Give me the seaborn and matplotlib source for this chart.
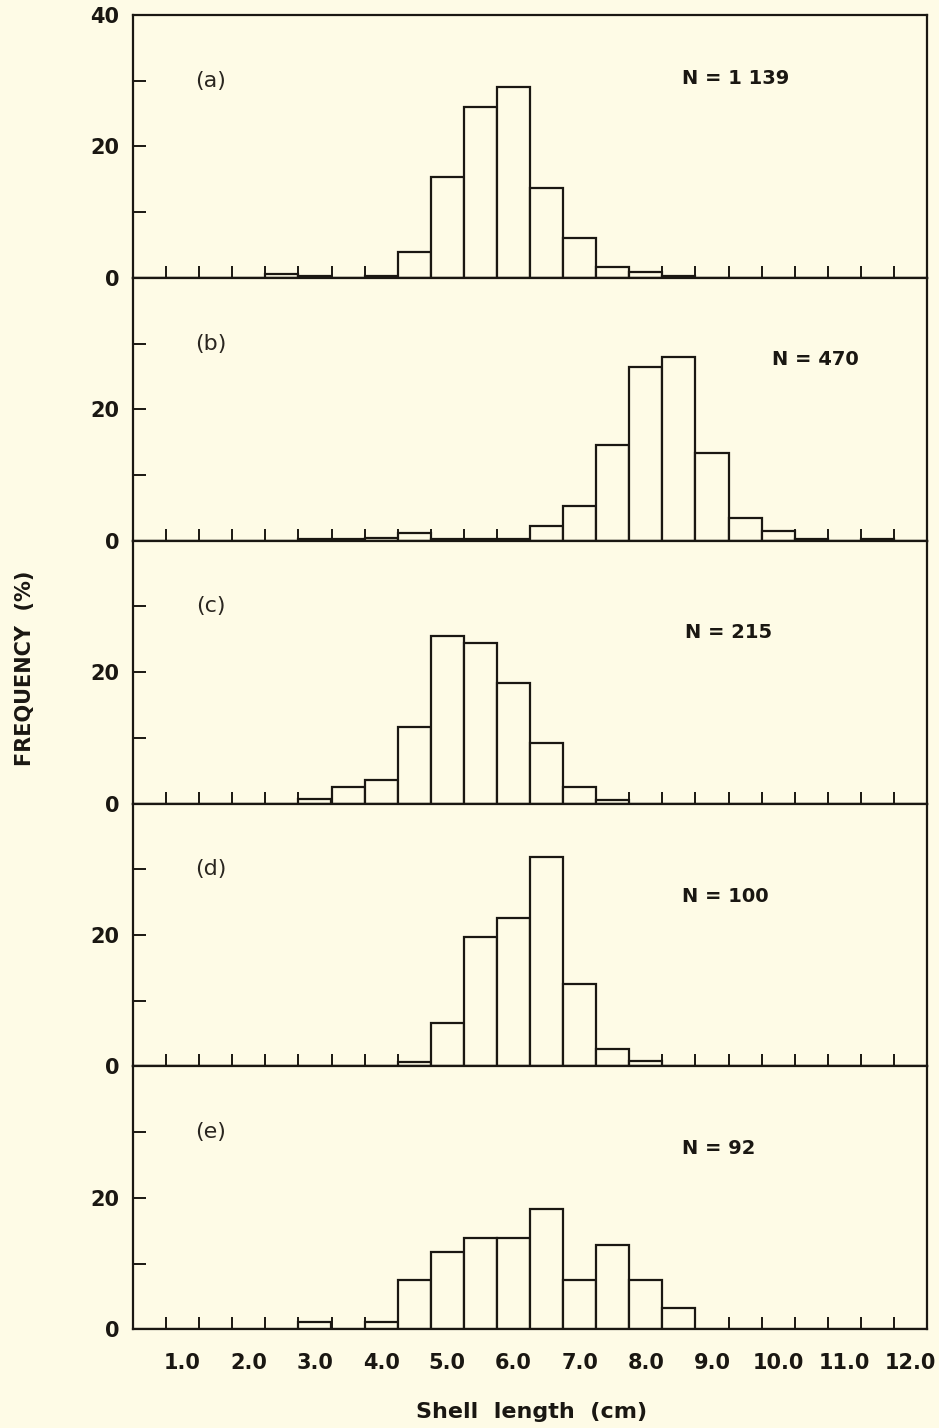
import matplotlib.pyplot as plt
import seaborn as sns

# Shell length bin midpoints (cm) and frequency (%) for each sample
a_mid = [2.5, 3.0, 4.0, 4.5, 5.0, 5.5, 6.0, 6.5, 7.0, 7.5, 8.0, 8.5]
a_pct = [0.6, 0.3, 0.3, 4.0, 15.4, 26.0, 29.1, 13.7, 6.0, 1.6, 0.9, 0.3]

b_mid = [3.0, 3.5, 4.0, 4.5, 5.0, 5.5, 6.0, 6.5, 7.0, 7.5, 8.0, 8.5, 9.0, 9.5, 10.0, 10.5, 11.5]
b_pct = [0.2, 0.2, 0.4, 1.2, 0.2, 0.2, 0.2, 2.3, 5.3, 14.6, 26.4, 27.9, 13.3, 3.4, 1.5, 0.3, 0.3]

c_mid = [3.0, 3.5, 4.0, 4.5, 5.0, 5.5, 6.0, 6.5, 7.0, 7.5]
c_pct = [0.7, 2.5, 3.6, 11.6, 25.5, 24.4, 18.3, 9.2, 2.5, 0.6]

d_mid = [4.5, 5.0, 5.5, 6.0, 6.5, 7.0, 7.5, 8.0]
d_pct = [0.7, 6.6, 19.7, 22.6, 31.9, 12.6, 2.6, 0.9]

e_mid = [3.0, 4.0, 4.5, 5.0, 5.5, 6.0, 6.5, 7.0, 7.5, 8.0, 8.5]
e_pct = [1.1, 1.1, 7.5, 11.8, 13.9, 13.9, 18.3, 7.5, 12.9, 7.5, 3.3]

panel_tags = ['(a)', '(b)', '(c)', '(d)', '(e)']
n_labels = ['N = 1 139', 'N = 470', 'N = 215', 'N = 100', 'N = 92']
n_pos = [(8.55, 30.4), (9.9, 27.6), (8.6, 26.1), (8.55, 25.8), (8.55, 27.5)]
x_ticks = [1, 2, 3, 4, 5, 6, 7, 8, 9, 10, 11, 12]
x_ticklabels = ['1.0', '2.0', '3.0', '4.0', '5.0', '6.0', '7.0', '8.0', '9.0', '10.0', '11.0', '12.0']
x_minor = [0.75 + 0.5 * i for i in range(23)]

bg = '#fefbe6'
ink = '#1a1712'
sns.set_style('ticks')
plt.rcParams['font.family'] = ['DejaVu Sans']
narrow = ['DejaVu Sans Condensed', 'Liberation Sans Narrow', 'DejaVu Sans']

fig = plt.figure(figsize=(9.39, 14.28), dpi=100, facecolor=bg)
left, width = 133 / 939, 794 / 939
bottom, top = 1 - 1329.3 / 1428, 1 - 15 / 1428
h = (top - bottom) / 5

data = [(a_mid, a_pct), (b_mid, b_pct), (c_mid, c_pct), (d_mid, d_pct), (e_mid, e_pct)]
for i, (mids, pct) in enumerate(data):
    ax = fig.add_axes([left, top - (i + 1) * h, width, h])
    ax.set_facecolor(bg)
    sns.histplot(x=mids, weights=pct, binwidth=0.5, binrange=(0.25, 12.25),
                 color=bg, edgecolor=ink, linewidth=1.6, alpha=1, ax=ax)
    ax.set_xlim(0.25, 12.25)
    ax.set_ylim(0, 40)
    ax.set_xlabel('')
    ax.set_ylabel('')
    for s in ax.spines.values():
        s.set_visible(True)
        s.set_linewidth(1.6)
        s.set_color(ink)

    ax.set_yticks([0, 20, 40])
    ax.set_yticks([10, 30], minor=True)
    ylabels = ['0', '20', '40'] if i == 0 else ['0', '20', '']
    ax.set_yticklabels(ylabels, fontweight='bold', fontsize=15, family=narrow)
    ax.tick_params(axis='y', which='both', direction='in', length=9, width=1.4,
                   pad=10, colors=ink)

    ax.set_xticks(x_ticks)
    ax.set_xticks(x_minor, minor=True)
    ax.tick_params(axis='x', which='major', length=0, pad=17)
    ax.tick_params(axis='x', which='minor', direction='in', length=9, width=1.4,
                   colors=ink)
    if i == 4:
        ax.set_xticklabels(x_ticklabels, fontweight='bold', fontsize=15, family=narrow,
                           color=ink)
    else:
        ax.set_xticklabels([])

    ax.text(1.42, 30, panel_tags[i], fontsize=16, ha='center', va='center', color='#2a2620')
    ax.text(n_pos[i][0], n_pos[i][1], n_labels[i], fontsize=14, fontweight='bold',
            ha='left', va='center', color=ink)

fig.text(0.027, 1 - 668 / 1428, 'FREQUENCY  (%)', rotation=90,
         fontsize=15, fontweight='bold', ha='center', va='center', color=ink)
fig.text(532 / 939, 1 - 1412 / 1428, 'Shell  length  (cm)',
         fontsize=16, fontweight='bold', ha='center', va='center', color=ink)

fig.savefig('out.png', dpi=100, facecolor=bg)
